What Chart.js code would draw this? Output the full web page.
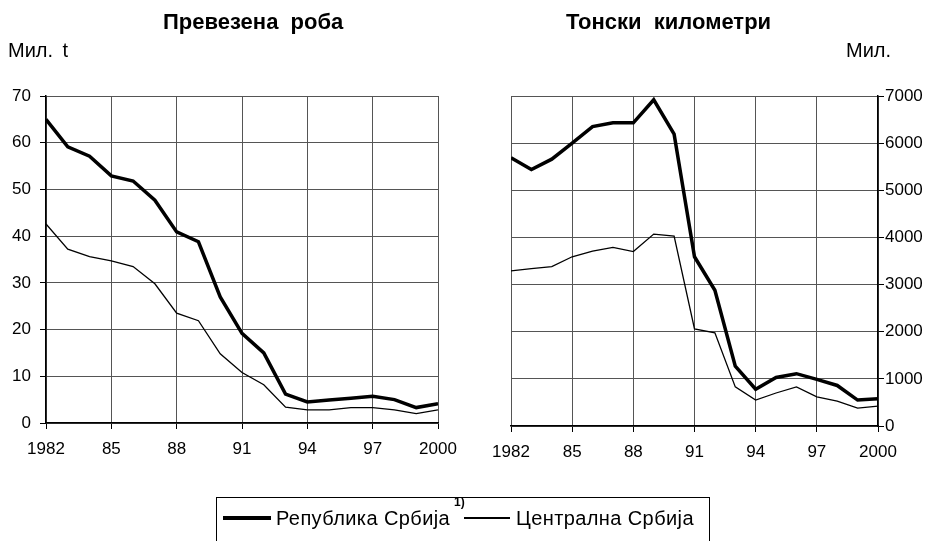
<!DOCTYPE html>
<html>
<head>
<meta charset="utf-8">
<script src="https://cdn.jsdelivr.net/npm/chart.js@4"></script>
<style>
  body { margin: 0; background: #fff; }
  #wrap { position: relative; width: 936px; height: 541px; overflow: hidden; font-family: "Liberation Sans", Arial, sans-serif; color: #000; }
  canvas { position: absolute; left: 0; top: 0; }
  .t { position: absolute; white-space: pre; line-height: 1; }
  .title { font-weight: bold; font-size: 22px; top: 11px; }
  .unit { font-size: 20px; top: 40px; }
  #legend { position: absolute; left: 216px; top: 497px; width: 492px; height: 60px; border: 1px solid #000; }
  .lg { position: absolute; background: #000; }
  .lt { position: absolute; top: 10px; font-size: 20px; letter-spacing: 0.4px; white-space: pre; line-height: 1; }
</style>
</head>
<body>
<div id="wrap">
  <canvas id="goods" width="936" height="541"></canvas>
  <canvas id="tkm" width="936" height="541"></canvas>
  <div class="t title" style="left:163px">Превезена  роба</div>
  <div class="t title" style="left:566px">Тонски  километри</div>
  <div class="t unit" style="left:8px;word-spacing:4px">Мил. t</div>
  <div class="t unit" style="left:846px">Мил.</div>
  <div id="legend">
    <div class="lg" style="left:6px;width:48px;height:4px;top:18px"></div>
    <div class="lt" style="left:59px">Република Србија</div>
    <div class="t" style="left:237px;top:-2px;font-size:12px;font-weight:bold">1)</div>
    <div class="lg" style="left:247px;width:46px;height:1.5px;top:19px"></div>
    <div class="lt" style="left:299px">Централна Србија</div>
  </div>
</div>
<script>
// years and values
var years = [1982, 1983, 1984, 1985, 1986, 1987, 1988, 1989, 1990, 1991,
             1992, 1993, 1994, 1995, 1996, 1997, 1998, 1999, 2000];

// Превезена роба, мил. t
var goodsSerbia  = [65.0, 59.1, 57.1, 52.9, 51.8, 47.7, 40.9, 38.8, 27.0, 19.2,
                    15.0, 6.2, 4.5, 4.9, 5.3, 5.7, 5.0, 3.3, 4.1];
var goodsCentral = [42.6, 37.2, 35.6, 34.7, 33.5, 29.8, 23.5, 21.9, 14.8, 10.8,
                    8.2, 3.4, 2.8, 2.8, 3.3, 3.3, 2.8, 2.0, 2.8];

// Тонски километри, мил.
var tkmSerbia  = [5690, 5440, 5660, 6000, 6350, 6430, 6430, 6920, 6190, 3590,
                  2880, 1270, 780, 1030, 1110, 990, 860, 550, 580];
var tkmCentral = [3290, 3340, 3380, 3590, 3710, 3790, 3700, 4070, 4030, 2060,
                  1975, 830, 550, 700, 830, 620, 530, 380, 420];

var seriesNames = ['Република Србија', 'Централна Србија'];

Chart.defaults.font.family = '"Liberation Sans", Arial, sans-serif';
Chart.defaults.font.size = 17;
Chart.defaults.color = '#000';

function points(vals) {
    var out = [];
    for (var i = 0; i < years.length; i++) out.push({x: years[i], y: vals[i]});
    return out;
}

function yearLabel(v) {
    if (v === 1982 || v === 2000) return String(v);
    return String(v).slice(2);
}

function makeChart(id, heavy, thin, yMax, yStep, side, pad, yLabelPad) {
    new Chart(document.getElementById(id), {
        type: 'line',
        data: {
            datasets: [
                { label: seriesNames[0], data: points(heavy), borderColor: '#000', borderWidth: 3.5, pointRadius: 0, tension: 0 },
                { label: seriesNames[1], data: points(thin), borderColor: '#000', borderWidth: 1.3, pointRadius: 0, tension: 0 }
            ]
        },
        options: {
            responsive: false,
            animation: false,
            layout: { padding: pad },
            plugins: { legend: { display: false }, tooltip: { enabled: false } },
            scales: {
                x: {
                    type: 'linear', min: 1982, max: 2000,
                    ticks: { stepSize: 3, autoSkip: false, maxRotation: 0, padding: 10, callback: yearLabel },
                    grid: { color: '#555', tickColor: '#000', tickLength: 6, lineWidth: 1 },
                    border: { color: '#000', width: 1.5 },
                    afterFit: function (s) { s.height = 40; }
                },
                y: {
                    position: side, min: 0, max: yMax,
                    ticks: { stepSize: yStep, padding: yLabelPad, callback: function (v) { return String(v); } },
                    grid: { color: '#555', tickColor: '#000', tickLength: 6, lineWidth: 1 },
                    border: { color: '#000', width: 1.5 },
                    afterFit: function (s) { s.width = side === 'left' ? 46 : 50; }
                }
            }
        }
    });
}

makeChart('goods', goodsSerbia, goodsCentral, 70, 10, 'left',
          { left: 0, top: 96, right: 498, bottom: 78 }, 9);
makeChart('tkm', tkmSerbia, tkmCentral, 7000, 1000, 'right',
          { left: 511, top: 96, right: 8, bottom: 75 }, 1);
</script>
</body>
</html>
